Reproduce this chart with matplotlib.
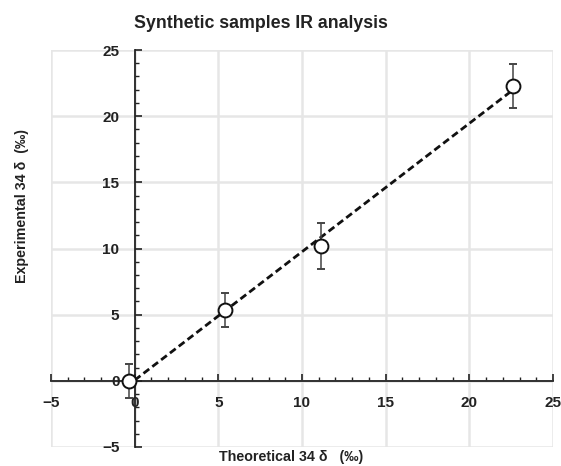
import numpy as np
import matplotlib
matplotlib.use("Agg")
import matplotlib.pyplot as plt
from matplotlib.ticker import MultipleLocator

plt.rcParams['font.family'] = ['Liberation Sans', 'DejaVu Sans']

# Theoretical vs experimental 34δ values (‰) with standard deviations
theoretical = [-0.35, 5.4, 11.15, 22.6]
experimental = [0.0, 5.35, 10.2, 22.3]
exp_error = [1.3, 1.25, 1.75, 1.65]

x_ticks = [-5, 0, 5, 10, 15, 20, 25]
y_ticks = [-5, 0, 5, 10, 15, 20, 25]

fig = plt.figure(figsize=(5.61, 4.66), dpi=100)
ax = fig.add_axes([51 / 561, 1 - 447 / 466, 502 / 561, 397 / 466])

ax.set_xlim(-5, 25)
ax.set_ylim(-5, 25)

# light grid behind everything
ax.set_axisbelow(True)
ax.grid(True, which='major', color='#e6e6e6', lw=1.8)

# axes crossing at the origin
ax.spines['left'].set_position(('data', 0))
ax.spines['bottom'].set_position(('data', 0))
ax.spines['top'].set_visible(False)
ax.spines['right'].set_visible(False)
for s in ('left', 'bottom'):
    ax.spines[s].set_linewidth(1.3)
    ax.spines[s].set_color('#222222')

ax.set_xticks(x_ticks)
ax.set_yticks(y_ticks)
ax.xaxis.set_minor_locator(MultipleLocator(1))
ax.yaxis.set_minor_locator(MultipleLocator(1))
ax.tick_params(which='major', direction='in', length=5, width=1.2, color='#222222',
               labelsize=11, pad=11)
ax.tick_params(which='minor', direction='in', length=3, width=1.0, color='#222222')
for lbl in ax.get_xticklabels() + ax.get_yticklabels():
    lbl.set_fontweight('bold')
    lbl.set_color('#222222')

# linear regression line over the measured range
slope, intercept = np.polyfit(theoretical, experimental, 1)
xf = np.array([0.0, max(theoretical)])
ax.plot(xf, slope * xf + intercept, color='#111111', lw=2.0, ls=(0, (2.6, 1.4)), zorder=3)

ax.errorbar(theoretical, experimental, yerr=exp_error, fmt='o', ms=10,
            mfc='white', mec='#111111', mew=1.4, ecolor='#444444', elinewidth=1.1,
            capsize=3, capthick=1.1, zorder=4)

fig.text(261 / 561, 1 - 23 / 466, 'Synthetic samples IR analysis', ha='center', va='center',
         fontsize=12.8, fontweight='bold', color='#222222')
fig.text(291 / 561, 1 - 457 / 466, 'Theoretical 34 δ   (‰)', ha='center', va='center',
         fontsize=10.3, fontweight='bold', color='#222222')
fig.text(22 / 561, 1 - 206 / 466, 'Experimental 34 δ  (‰)', ha='center', va='center',
         rotation=90, fontsize=10.3, fontweight='bold', color='#222222')

fig.savefig('out.png', dpi=100)
